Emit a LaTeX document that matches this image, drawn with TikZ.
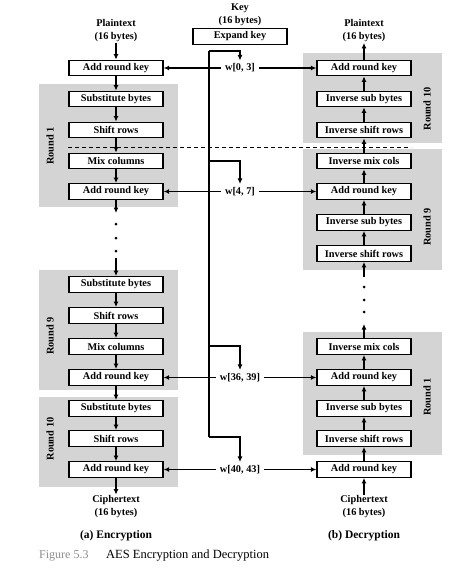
\documentclass[tikz,border=0pt]{standalone}
\usepackage{fontspec}
\setmainfont{Liberation Serif}
\usetikzlibrary{arrows.meta}
\definecolor{roundgray}{RGB}{212,212,212}
\definecolor{capgray}{RGB}{140,140,140}
\begin{document}
\begin{tikzpicture}[x=1pt,y=-1pt,
  stepbox/.style={draw, line width=1.3pt, fill=white, minimum width=94pt, minimum height=15.5pt, inner sep=0pt, font=\bfseries\fontsize{10.3}{12}\selectfont},
  lbl/.style={font=\bfseries\fontsize{10.3}{13}\selectfont, align=center, inner sep=1pt},
  wlbl/.style={font=\bfseries\fontsize{10.3}{12}\selectfont, inner xsep=4pt, inner ysep=3pt},
  flow/.style={line width=1.2pt, -{Latex[length=5.5pt,width=5pt]}},
  keyline/.style={line width=1.2pt},
  graybox/.style={fill=roundgray, draw=none},
  rlab/.style={rotate=90, font=\bfseries\fontsize{10.3}{12}\selectfont},
  dotn/.style={circle, fill=black, inner sep=0pt, minimum size=3pt},
]
\useasboundingbox (0,0) rectangle (474,570);

% gray round regions
\fill[graybox] (39,84) rectangle (178,207);
\fill[graybox] (39,270) rectangle (178,390);
\fill[graybox] (39,397) rectangle (178,487);
\fill[graybox] (303,53) rectangle (442,143);
\fill[graybox] (303,149) rectangle (442,270);
\fill[graybox] (303,332) rectangle (442,455);

% dashed separator
\draw[line width=0.9pt, dash pattern=on 4pt off 3pt] (68,147) -- (411,147);

% round labels
\node[rlab] (lr1) at (50,146) {Round 1};
\node[rlab] (lr9) at (50,336) {Round 9};
\node[rlab] (lr10) at (50,439) {Round 10};
\node[rlab] (rr10) at (427,109) {Round 10};
\node[rlab] (rr9) at (427,227) {Round 9};
\node[rlab] (rr1) at (427,397) {Round 1};

% top / bottom texts
\node[lbl] (ptL) at (116,30.5) {Plaintext\\(16 bytes)};
\node[lbl] (ptR) at (364,30.5) {Plaintext\\(16 bytes)};
\node[lbl] (key) at (240,15) {Key\\(16 bytes)};
\node[lbl] (ctL) at (116,507) {Ciphertext\\(16 bytes)};
\node[lbl] (ctR) at (364,507) {Ciphertext\\(16 bytes)};
\node[font=\bfseries\fontsize{11.5}{13}\selectfont] (capa) at (116,536) {(a) Encryption};
\node[font=\bfseries\fontsize{11.5}{13}\selectfont] (capb) at (364,536) {(b) Decryption};
\node[anchor=base west, inner sep=0pt, text=capgray, font=\fontsize{12}{14}\selectfont] (fig) at (39,558) {Figure 5.3};
\node[anchor=base west, inner sep=0pt, font=\fontsize{12.5}{14}\selectfont] (figt) at (106,558) {AES Encryption and Decryption};

% expand key
\node[stepbox] (exp) at (240,36.5) {Expand key};

% encryption column
\node[stepbox] (eA0) at (116,68) {Add round key};
\node[stepbox] (eS1) at (116,99) {Substitute bytes};
\node[stepbox] (eR1) at (116,130) {Shift rows};
\node[stepbox] (eM1) at (116,161) {Mix columns};
\node[stepbox] (eA1) at (116,191.5) {Add round key};
\node[stepbox] (eS9) at (116,284.5) {Substitute bytes};
\node[stepbox] (eR9) at (116,315.5) {Shift rows};
\node[stepbox] (eM9) at (116,346.5) {Mix columns};
\node[stepbox] (eA9) at (116,377.5) {Add round key};
\node[stepbox] (eS10) at (116,408.5) {Substitute bytes};
\node[stepbox] (eR10) at (116,438.5) {Shift rows};
\node[stepbox] (eA10) at (116,469.5) {Add round key};

% decryption column
\node[stepbox] (dA0) at (364,68) {Add round key};
\node[stepbox] (dB10) at (364,99) {Inverse sub bytes};
\node[stepbox] (dR10) at (364,130) {Inverse shift rows};
\node[stepbox] (dM9) at (364,161) {Inverse mix cols};
\node[stepbox] (dA9) at (364,191.5) {Add round key};
\node[stepbox] (dB9) at (364,222.5) {Inverse sub bytes};
\node[stepbox] (dR9) at (364,253.5) {Inverse shift rows};
\node[stepbox] (dM1) at (364,346.5) {Inverse mix cols};
\node[stepbox] (dA1) at (364,377.5) {Add round key};
\node[stepbox] (dB1) at (364,408.5) {Inverse sub bytes};
\node[stepbox] (dR1) at (364,438.5) {Inverse shift rows};
\node[stepbox] (dA10) at (364,469.5) {Add round key};

% key words labels
\node[wlbl] (w0) at (240,68) {w[0, 3]};
\node[wlbl] (w1) at (240,191.5) {w[4, 7]};
\node[wlbl] (w9) at (240,377.5) {w[36, 39]};
\node[wlbl] (w10) at (240,469.5) {w[40, 43]};

% key schedule line
\coordinate (kt) at (209,51);
\coordinate (k1) at (209,161);
\coordinate (k9) at (209,346);
\coordinate (kb) at (209,437);
\draw[keyline] (kt) -- (kb);
\draw[flow] (kt) -| (w0.north);
\draw[flow] (k1) -| (w1.north);
\draw[flow] (k9) -| (w9.north);
\draw[flow] (kb) -| (w10.north);

% key arrows to boxes
\draw[flow] (w0.west) -- (eA0.east);
\draw[flow] (w0.east) -- (dA0.west);
\draw[flow] (w1.west) -- (eA1.east);
\draw[flow] (w1.east) -- (dA9.west);
\draw[flow] (w9.west) -- (eA9.east);
\draw[flow] (w9.east) -- (dA1.west);
\draw[flow] (w10.west) -- (eA10.east);
\draw[flow] (w10.east) -- (dA10.west);

% encryption flow
\draw[flow] (ptL) -- (eA0);
\draw[flow] (eA0) -- (eS1);
\draw[flow] (eS1) -- (eR1);
\draw[flow] (eR1) -- (eM1);
\draw[flow] (eM1) -- (eA1);
\coordinate (lgA) at (116,213);
\coordinate (lgB) at (116,258);
\draw[flow] (eA1) -- (lgA);
\node[dotn] (ld1) at (116,224) {};
\node[dotn] (ld2) at (116,238) {};
\node[dotn] (ld3) at (116,251) {};
\draw[flow] (lgB) -- (eS9);
\draw[flow] (eS9) -- (eR9);
\draw[flow] (eR9) -- (eM9);
\draw[flow] (eM9) -- (eA9);
\draw[flow] (eA9) -- (eS10);
\draw[flow] (eS10) -- (eR10);
\draw[flow] (eR10) -- (eA10);
\draw[flow] (eA10) -- (ctL);

% decryption flow
\draw[flow] (ctR) -- (dA10);
\draw[flow] (dA10) -- (dR1);
\draw[flow] (dR1) -- (dB1);
\draw[flow] (dB1) -- (dA1);
\draw[flow] (dA1) -- (dM1);
\coordinate (rgA) at (364,324);
\coordinate (rgB) at (364,277);
\draw[flow] (dM1) -- (rgA);
\node[dotn] (rd1) at (364,312) {};
\node[dotn] (rd2) at (364,300) {};
\node[dotn] (rd3) at (364,287) {};
\draw[flow] (rgB) -- (dR9);
\draw[flow] (dR9) -- (dB9);
\draw[flow] (dB9) -- (dA9);
\draw[flow] (dA9) -- (dM9);
\draw[flow] (dM9) -- (dR10);
\draw[flow] (dR10) -- (dB10);
\draw[flow] (dB10) -- (dA0);
\draw[flow] (dA0) -- (ptR);
\end{tikzpicture}
\end{document}
